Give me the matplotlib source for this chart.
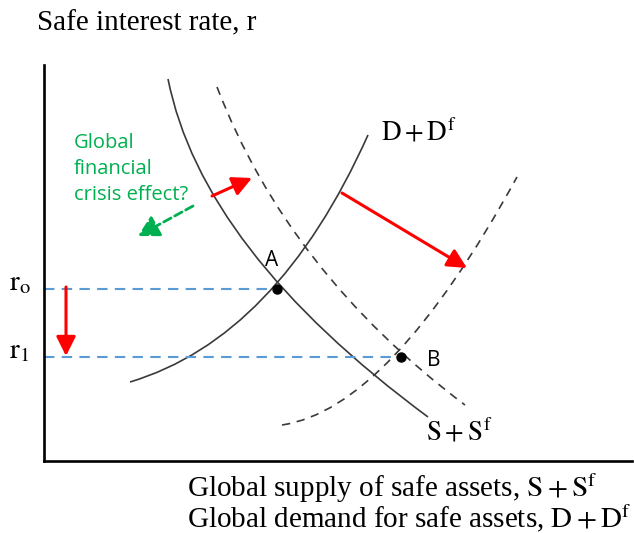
import matplotlib.pyplot as plt
from matplotlib.path import Path
from matplotlib.patches import PathPatch

# curves as quadratic bezier control points (start, control, end), pixel-like units
supply = [(168, 79), (202, 250), (428, 417)]
supply_new = [(217, 87), (288, 272), (465, 405)]
demand = [(130, 382), (277, 338), (368, 135)]
demand_new = [(282, 425), (390, 409), (517, 177)]

# equilibria
eq_names = ['A', 'B']
eq_x = [277, 401]
eq_y = [289, 357]
rate_labels = [r'$\mathrm{r_o}$', r'$\mathrm{r_1}$']

# shift arrows (tail, tip)
red_arrows = [((212, 196), (252, 178)), ((342, 193), (467, 268)), ((66, 287), (66, 356))]
green_arrow = ((193, 206), (138, 236))

curve_col = '#3a3a3a'
blue = '#5b9bd5'
green = '#00b050'

fig = plt.figure(figsize=(6.34, 5.33), dpi=100)
ax = fig.add_axes([44 / 634, 72 / 533, 588 / 634, 396 / 533])
ax.set_xlim(44, 632)
ax.set_ylim(461, 65)
for s in ['top', 'right']:
    ax.spines[s].set_visible(False)
for s in ['left', 'bottom']:
    ax.spines[s].set_linewidth(1.9)
ax.set_xticks([])
ax.set_yticks([])

def bezier(pts, ls):
    p = Path(pts, [Path.MOVETO, Path.CURVE3, Path.CURVE3])
    ax.add_patch(PathPatch(p, fill=False, ec=curve_col, lw=1.2, ls=ls, capstyle='butt'))

bezier(supply, '-')
bezier(demand, '-')
bezier(supply_new, (0, (5, 4)))
bezier(demand_new, (0, (5, 4)))

# dashed guides to the rate axis
for x, y in zip(eq_x, eq_y):
    ax.plot([44, x], [y, y], color=blue, lw=1.5, ls=(0, (5, 3.5)))
ax.plot(eq_x, eq_y, 'o', color='black', ms=6.5, zorder=5)

for (t, h) in red_arrows:
    ax.annotate('', xy=h, xytext=t,
                arrowprops=dict(arrowstyle='-|>,head_length=0.9,head_width=0.45',
                                color='red', lw=2.2, shrinkA=0, shrinkB=0,
                                mutation_scale=13))
ax.annotate('', xy=green_arrow[1], xytext=green_arrow[0],
            arrowprops=dict(arrowstyle='-|>,head_length=0.9,head_width=0.5',
                            color=green, lw=2, ls=(0, (3, 1.5)), shrinkA=0, shrinkB=0,
                            mutation_scale=14))

plt.rcParams['mathtext.fontset'] = 'stix'
serif = 'Liberation Serif'
sans = 'Open Sans'

fig.text(37 / 634, 1 - 23 / 533, 'Safe interest rate, r', family=serif, fontsize=21,
         va='center', ha='left')
for lab, y in zip(rate_labels, eq_y):
    ax.text(9, y - 7, lab, fontsize=21, va='center', ha='left', clip_on=False)
ax.text(272, 260, eq_names[0], family=sans, fontsize=15, ha='center', va='center')
ax.text(434, 360, eq_names[1], family=sans, fontsize=15, ha='center', va='center')
ax.text(381, 132, r'$\mathrm{D + D^f}$', fontsize=19.5, ha='left', va='center')
ax.text(426, 432, r'$\mathrm{S + S^f}$', fontsize=19.5, ha='left', va='center')
ax.text(74, 169, 'Global\nfinancial\ncrisis effect?', family=sans, fontsize=14.5,
        color=green, ha='left', va='center', linespacing=1.38)

fig.text(187 / 634, 1 - 488 / 533, r'Global supply of safe assets, $\mathrm{S + S^f}$',
         family=serif, fontsize=21, va='center', ha='left')
fig.text(187 / 634, 1 - 518 / 533, r'Global demand for safe assets, $\mathrm{D + D^f}$',
         family=serif, fontsize=21, va='center', ha='left')

fig.savefig('out.png', dpi=100)
